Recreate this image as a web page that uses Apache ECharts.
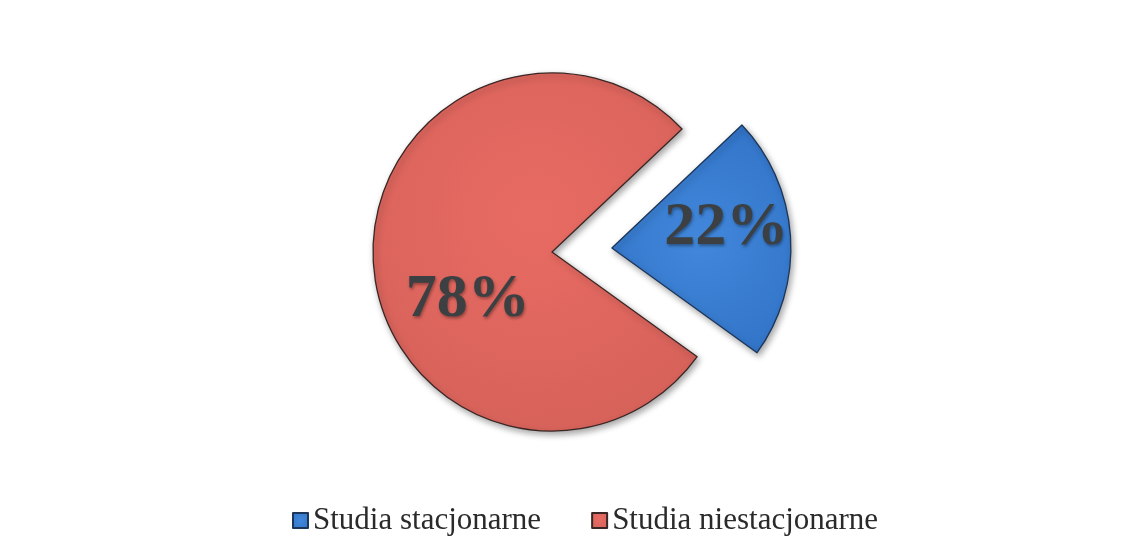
<!DOCTYPE html>
<html lang="pl">

<head>
	<meta charset="UTF-8">
	<script src="https://cdn.jsdelivr.net/npm/echarts@6/dist/echarts.min.js"></script>
	<title>pie</title>
	<style>
		html, body { margin: 0; padding: 0; background: #fff; }
		#pie { width: 1141px; height: 553px; }
	</style>
</head>

<body>
	<div id="pie"></div>
	<script>
		// dane
		var categories = ['Studia stacjonarne', 'Studia niestacjonarne']
		var values = [22, 78]

		var myPie = echarts.init(document.getElementById('pie'))

		var fills = [
			new echarts.graphic.RadialGradient(0.5, 0.5, 0.7, [
				{ offset: 0, color: '#4187db' },
				{ offset: 1, color: '#3274c8' }
			]),
			new echarts.graphic.RadialGradient(0.5, 0.4, 0.7, [
				{ offset: 0, color: '#e86b63' },
				{ offset: 1, color: '#d6625a' }
			])
		]
		var borders = ['#1c3558', '#3a2624']

		var option = {
			backgroundColor: '#fff',
			legend: {
				data: categories,
				left: 287,
				top: 500,
				icon: 'rect',
				itemWidth: 15,
				itemHeight: 15,
				itemGap: 50,
				selectedMode: false,
				textStyle: {
					fontFamily: 'Liberation Serif',
					fontSize: 31,
					color: '#2a2a2a'
				}
			},
			series: [
				{
					type: 'pie',
					center: [552, 252],
					radius: [0, 179],
					startAngle: 43.4,
					selectedMode: 'single',
					selectedOffset: 60,
					animation: false,
					label: {
						show: true,
						position: 'inside',
						formatter: '{c}%',
						fontFamily: 'Liberation Serif',
						fontWeight: 'bold',
						fontSize: 62,
						color: '#3c4043',
						textShadowColor: 'rgba(0,0,0,0.35)',
						textShadowBlur: 3,
						textShadowOffsetX: 1,
						textShadowOffsetY: 2
					},
					labelLayout: function (p) {
						// przesunięcie etykiet jak w oryginale
						return p.dataIndex === 0 ? { dx: 22, dy: -14 } : { dx: 8, dy: 42 }
					},
					emphasis: { disabled: true },
					data: categories.map(function (name, i) {
						return {
							name: name,
							value: values[i],
							selected: i === 0,
							itemStyle: {
								color: fills[i],
								borderColor: borders[i],
								borderWidth: 1.3,
								shadowBlur: 6,
								shadowOffsetX: 2,
								shadowOffsetY: 3,
								shadowColor: 'rgba(0,0,0,0.35)'
							}
						}
					})
				}
			]
		}
		myPie.setOption(option)
	</script>
</body>

</html>
